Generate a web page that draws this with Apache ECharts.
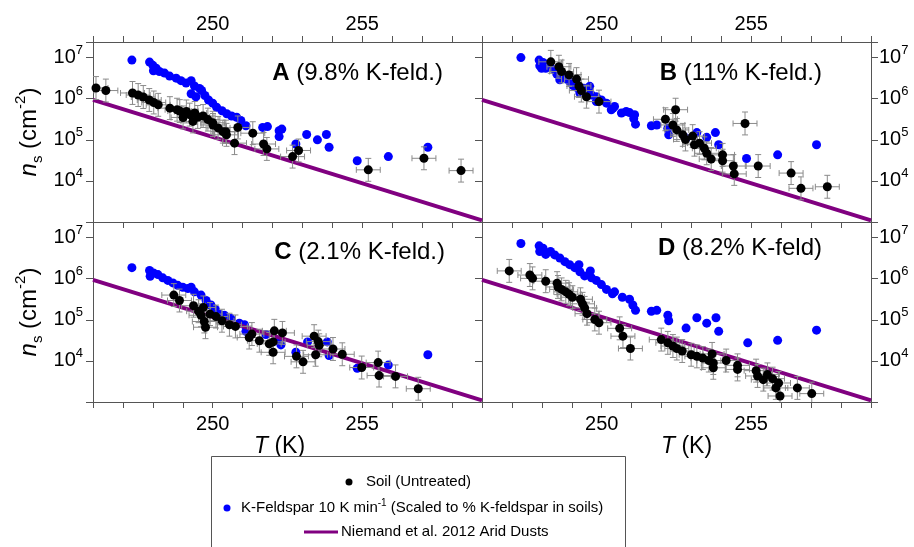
<!DOCTYPE html>
<html>
<head>
<meta charset="utf-8">
<script src="https://cdn.jsdelivr.net/npm/echarts@6/dist/echarts.min.js"></script>
<style>
  html, body { margin: 0; padding: 0; background: #fff; }
  #chart { width: 914px; height: 547px; }
</style>
</head>
<body>
<div id="chart"></div>
<script>
// T (K) and n_s (cm^-2)
const soilA = [[246.1, 1.82e6], [246.43, 1.58e6], [247.32, 1.38e6], [247.51, 1.23e6], [247.68, 1.1e6], [247.88, 9.3e5],
  [248.03, 8.1e5], [248.18, 7.1e5], [248.57, 5.9e5], [248.81, 5.4e5], [248.9, 5.0e5], [249.12, 4.9e5], [249.23, 4.1e5],
  [249.01, 3.5e5], [249.34, 2.8e5], [249.4, 4.5e5], [249.5, 3.6e5], [249.68, 3.8e5], [249.84, 3.1e5], [250.0, 2.6e5],
  [250.01, 2.3e5], [250.18, 1.95e5], [250.34, 1.58e5], [250.44, 1.58e5], [250.46, 1.32e5], [250.73, 8.3e4], [250.84, 2.0e5],
  [251.34, 1.45e5], [251.7, 7.9e4], [251.81, 6.0e4], [252.67, 3.9e4], [252.87, 5.5e4], [255.2, 1.86e4], [257.06, 3.55e4],
  [258.3, 1.78e4]];
const feldA = [[247.3, 8.7e6], [247.89, 7.8e6], [248.0, 6.5e6], [248.11, 5.5e6], [248.02, 4.8e6], [248.22, 4.6e6],
  [248.39, 4.2e6], [248.56, 3.55e6], [248.78, 3.16e6], [248.94, 2.75e6], [249.11, 2.4e6], [249.28, 2.75e6], [249.39, 2.04e6],
  [249.56, 1.78e6], [249.28, 1.32e6], [249.44, 1.12e6], [249.63, 1.58e6], [249.74, 1.2e6], [249.86, 9.3e5], [250.0, 7.8e5],
  [250.13, 6.2e5], [250.31, 5.1e5], [250.47, 4.3e5], [250.63, 3.8e5], [250.8, 3.55e5], [250.94, 2.95e5], [251.11, 2.2e5],
  [251.67, 2.0e5], [251.83, 2.1e5], [252.22, 1.66e5], [252.22, 1.2e5], [252.31, 1.82e5], [252.78, 7.9e4], [253.14, 1.35e5],
  [253.5, 1.0e5], [253.8, 1.35e5], [253.89, 6.6e4], [254.83, 3.1e4], [255.87, 3.9e4], [257.19, 6.6e4]];

const soilB = [[248.3, 7.9e6], [248.57, 6.0e6], [248.66, 4.6e6], [248.91, 3.8e6], [249.16, 3.0e6], [249.24, 2.04e6],
  [249.32, 1.58e6], [249.49, 1.12e6], [249.91, 8.5e5], [252.13, 3.16e5], [252.47, 5.4e5], [252.38, 2.3e5], [252.51, 1.74e5],
  [252.71, 1.32e5], [252.8, 1.02e5], [253.04, 1.23e5], [253.1, 7.6e4], [253.27, 8.3e4], [253.43, 6.2e4], [253.51, 4.7e4],
  [253.66, 3.4e4], [254.04, 4.3e4], [254.04, 3.1e4], [254.4, 2.3e4], [254.43, 1.48e4], [254.79, 2.5e5], [255.23, 2.3e4],
  [256.33, 1.55e4], [256.66, 6.6e3], [257.54, 7.2e3]];
const feldB = [[247.3, 1.0e7], [247.91, 8.7e6], [247.93, 6.3e6], [247.99, 5.5e6], [248.04, 7.6e6], [248.13, 5.5e6],
  [248.27, 6.0e6], [248.43, 5.0e6], [248.5, 4.0e6], [248.6, 4.2e6], [248.6, 2.9e6], [248.77, 3.3e6], [248.85, 3.0e6],
  [248.93, 2.6e6], [249.04, 2.1e6], [249.1, 2.5e6], [249.16, 1.9e6], [249.27, 1.6e6], [249.27, 1.38e6], [249.4, 1.8e6],
  [249.43, 1.4e6], [249.55, 1.5e6], [249.6, 2.0e6], [249.66, 1.23e6], [249.82, 1.12e6], [249.82, 8.5e5], [249.99, 9.3e5],
  [250.16, 7.8e5], [250.32, 5.4e5], [250.38, 5.9e5], [250.43, 6.5e5], [250.66, 4.5e5], [250.82, 4.9e5], [250.93, 4.6e5],
  [251.07, 3.3e5], [251.1, 4.1e5], [251.13, 2.4e5], [251.66, 2.2e5], [251.84, 2.3e5], [252.21, 1.9e5], [252.24, 1.32e5],
  [252.82, 1.1e5], [253.18, 1.5e5], [253.51, 1.15e5], [253.8, 1.5e5], [253.91, 7.6e4], [254.84, 3.5e4], [255.88, 4.3e4],
  [257.18, 7.6e4]];

const soilC = [[248.7, 4.0e5], [248.89, 2.95e5], [249.36, 2.2e5], [249.69, 2.0e5], [249.53, 1.62e5], [249.61, 1.29e5],
  [249.72, 9.1e4], [249.76, 6.6e4], [249.91, 1.38e5], [250.11, 1.2e5], [250.31, 9.5e4], [250.56, 7.6e4], [250.76, 6.9e4],
  [251.22, 3.7e4], [251.31, 4.5e4], [251.56, 3.1e4], [251.89, 2.6e4], [252.02, 2.9e4], [252.06, 5.4e4], [252.02, 1.62e4],
  [252.33, 4.8e4], [252.8, 1.29e4], [253.02, 9.5e3], [253.39, 4.0e4], [253.44, 1.41e4], [253.53, 2.95e4], [253.56, 2.4e4],
  [254.02, 1.95e4], [254.33, 1.45e4], [254.98, 6.9e3], [255.53, 9.1e3], [255.56, 4.4e3], [256.11, 4.2e3], [256.87, 2.1e3]];
const feldC = [[247.3, 1.86e6], [247.89, 1.58e6], [247.91, 1.15e6], [248.02, 1.38e6], [248.17, 1.26e6], [248.33, 1.05e6],
  [248.5, 9.1e5], [248.67, 7.9e5], [248.83, 6.9e5], [249.0, 6.2e5], [249.17, 5.75e5], [249.28, 6.2e5], [249.39, 4.8e5],
  [249.61, 4.0e5], [249.78, 2.95e5], [249.94, 2.3e5], [250.09, 1.78e5], [250.24, 1.35e5], [250.39, 1.29e5], [250.61, 1.07e5],
  [250.89, 8.3e4], [251.06, 7.6e4], [251.11, 5.25e4], [251.78, 4.4e4], [252.17, 3.2e4], [252.28, 2.45e4], [252.78, 1.62e4],
  [253.17, 2.9e4], [253.83, 2.9e4], [253.89, 1.35e4], [254.83, 6.6e3], [255.87, 7.9e3], [257.19, 1.41e4]];

const soilD = [[246.91, 1.55e6], [247.6, 1.23e6], [247.69, 1.02e6], [248.13, 8.7e5], [248.51, 7.8e5], [248.54, 6.3e5],
  [248.66, 5.5e5], [248.8, 4.8e5], [248.91, 4.2e5], [249.02, 3.55e5], [249.29, 3.16e5], [249.36, 2.45e5], [249.43, 1.95e5],
  [249.51, 1.41e5], [249.77, 1.02e5], [249.91, 8.5e4], [250.6, 6.2e4], [250.71, 4.0e4], [250.96, 2.0e4], [251.99, 3.3e4],
  [252.21, 2.75e4], [252.38, 2.3e4], [252.51, 2.0e4], [252.69, 1.74e4], [252.99, 1.41e4], [253.18, 1.29e4], [253.38, 1.17e4],
  [253.58, 1.02e4], [253.69, 1.48e4], [253.73, 8.9e3], [253.73, 6.8e3], [254.16, 1.02e4], [254.54, 7.8e3], [254.54, 6.2e3],
  [255.16, 5.8e3], [255.21, 4.3e3], [255.4, 3.5e3], [255.54, 4.7e3], [255.71, 3.7e3], [255.82, 2.2e3], [255.91, 2.9e3],
  [255.96, 1.4e3], [256.54, 2.2e3], [257.02, 1.6e3]];
const feldD = [[247.3, 7.2e6], [247.91, 6.3e6], [247.93, 4.6e6], [248.04, 5.5e6], [248.13, 3.9e6], [248.29, 4.6e6],
  [248.43, 3.8e6], [248.6, 3.2e6], [248.77, 2.6e6], [248.93, 2.2e6], [249.1, 1.86e6], [249.24, 2.2e6], [249.27, 1.48e6],
  [249.43, 1.17e6], [249.62, 1.55e6], [249.66, 1.05e6], [249.82, 9.1e5], [249.99, 7.2e5], [250.16, 5.5e5], [250.36, 4.3e5],
  [250.43, 4.8e5], [250.69, 3.55e5], [250.93, 3.16e5], [251.04, 2.3e5], [251.13, 1.7e5], [251.66, 1.62e5], [251.84, 1.7e5],
  [252.21, 1.29e5], [252.24, 9.5e4], [252.82, 6.3e4], [253.18, 1.12e5], [253.51, 8.3e4], [253.82, 1.12e5], [253.91, 5.25e4],
  [254.88, 2.75e4], [255.88, 3.16e4], [257.18, 5.6e4]];

// Niemand et al. 2012 arid dusts, end points at the panel edges
const niemand = [[246, 9.4e5], [259, 1.1e3]];

// error bar sizes on the soil points
const ERR_T = 0.4;   // K
const ERR_F = 1.9;   // multiplicative

const titles = [
  ['A', ' (9.8% K-feld.)'],
  ['B', ' (11% K-feld.)'],
  ['C', ' (2.1% K-feld.)'],
  ['D', ' (8.2% K-feld)']
];
const xLabels = [250, 255];

const FONT = 'Liberation Sans, Arial, sans-serif';
const AXIS_COLOR = '#555';
const PURPLE = '#800080';
const BLUE = '#0000ff';

const chart = echarts.init(document.getElementById('chart'));

const grids = [
  { left: 93, top: 42, width: 389, height: 180 },
  { left: 482, top: 42, width: 389, height: 180 },
  { left: 93, top: 222, width: 389, height: 180 },
  { left: 482, top: 222, width: 389, height: 180 }
];

const axisLine = { show: true, lineStyle: { color: AXIS_COLOR, width: 1 } };

function xAxis(gridIndex, position, labels, namePad) {
  return {
    type: 'value', gridIndex, position, min: 246, max: 259, interval: 1,
    axisLine, splitLine: { show: false },
    axisTick: { show: true, inside: false, length: 6, lineStyle: { color: AXIS_COLOR } },
    axisLabel: {
      show: labels, margin: position === 'top' ? 8 : 12,
      color: '#000', fontFamily: FONT, fontSize: 20,
      formatter: v => (xLabels.indexOf(v) >= 0 ? String(v) : '')
    },
    name: namePad ? '{i|T}{t| (K)}' : '',
    nameLocation: 'middle', nameGap: 24,
    nameTextStyle: {
      padding: namePad || 0,
      rich: {
        i: { fontFamily: FONT, fontSize: 23, fontStyle: 'italic', color: '#000' },
        t: { fontFamily: FONT, fontSize: 23, color: '#000' }
      }
    }
  };
}

function powLabel(v) {
  const e = Math.log10(v);
  const r = Math.round(e);
  if (Math.abs(e - r) > 1e-6 || r < 4) return '';
  return '{b|10}{s|' + r + '}';
}

function yAxis(gridIndex, position, labels, inside, name) {
  return {
    type: 'log', logBase: 10, gridIndex, position, min: 1e3, max: 2.4e7,
    axisLine, splitLine: { show: false }, minorTick: { show: false },
    axisTick: { show: true, inside, length: 7, lineStyle: { color: AXIS_COLOR } },
    axisLabel: {
      show: labels, margin: position === 'left' ? 10 : 8,
      formatter: powLabel,
      rich: {
        b: { fontFamily: FONT, fontSize: 20, lineHeight: 28, color: '#000' },
        s: { fontFamily: FONT, fontSize: 13, lineHeight: 13, verticalAlign: 'top', color: '#000' }
      }
    },
    name: name ? '{i|n}{sub|s}{t| (cm}{sup|-2}{t|)}' : '',
    nameLocation: 'middle', nameRotate: 90, nameGap: 48,
    nameTextStyle: {
      rich: {
        i: { fontFamily: FONT, fontSize: 24, lineHeight: 32, fontStyle: 'italic', color: '#000' },
        t: { fontFamily: FONT, fontSize: 24, lineHeight: 32, color: '#000' },
        sub: { fontFamily: FONT, fontSize: 15, lineHeight: 15, verticalAlign: 'bottom', color: '#000' },
        sup: { fontFamily: FONT, fontSize: 15, lineHeight: 15, verticalAlign: 'top', color: '#000' }
      }
    }
  };
}

function errorBars(params, api) {
  const t = api.value(0);
  const n = api.value(1);
  const c = api.coord([t, n]);
  const up = api.coord([t, n * ERR_F])[1];
  const dn = api.coord([t, n / ERR_F])[1];
  const lx = api.coord([t - ERR_T, n])[0];
  const rx = api.coord([t + ERR_T, n])[0];
  const cap = 3;
  const style = { stroke: '#8a8a8a', lineWidth: 1 };
  const seg = (x1, y1, x2, y2) => ({ type: 'line', shape: { x1, y1, x2, y2 }, style });
  return {
    type: 'group',
    children: [
      seg(c[0], up, c[0], dn),
      seg(c[0] - cap, up, c[0] + cap, up),
      seg(c[0] - cap, dn, c[0] + cap, dn),
      seg(lx, c[1], rx, c[1]),
      seg(lx, c[1] - cap, lx, c[1] + cap),
      seg(rx, c[1] - cap, rx, c[1] + cap)
    ]
  };
}

const panels = [
  { soil: soilA, feld: feldA, x: 0, y: 0 },
  { soil: soilB, feld: feldB, x: 2, y: 2 },
  { soil: soilC, feld: feldC, x: 4, y: 3 },
  { soil: soilD, feld: feldD, x: 5, y: 5 }
];

const series = [];
panels.forEach(p => {
  series.push({
    type: 'scatter', name: 'K-Feldspar', xAxisIndex: p.x, yAxisIndex: p.y, data: p.feld,
    symbolSize: 9, itemStyle: { color: BLUE, opacity: 1 }, clip: true, z: 1
  });
  series.push({
    type: 'line', name: 'Niemand', xAxisIndex: p.x, yAxisIndex: p.y, data: niemand,
    showSymbol: false, symbol: 'none', lineStyle: { color: PURPLE, width: 4 }, clip: true, z: 2
  });
  series.push({
    type: 'custom', xAxisIndex: p.x, yAxisIndex: p.y, data: p.soil,
    encode: { x: 0, y: 1 }, renderItem: errorBars, clip: true, silent: true, z: 3
  });
  series.push({
    type: 'scatter', name: 'Soil', xAxisIndex: p.x, yAxisIndex: p.y, data: p.soil,
    symbolSize: 9, itemStyle: { color: '#000', opacity: 1 }, clip: true, z: 4
  });
});

const titlePos = [[443, 73], [822, 73], [445, 252], [822, 248]];
const graphic = titles.map((t, i) => ({
  type: 'text', x: titlePos[i][0], y: titlePos[i][1], z: 10,
  style: {
    text: '{b|' + t[0] + '}{n|' + t[1] + '}',
    align: 'right', verticalAlign: 'middle',
    rich: {
      b: { fontFamily: FONT, fontSize: 24, fontWeight: 'bold', fill: '#000' },
      n: { fontFamily: FONT, fontSize: 24, fill: '#000' }
    }
  }
}));

// legend box
const legFont = { fontFamily: FONT, fontSize: 15, fill: '#000' };
graphic.push(
  { type: 'rect', shape: { x: 211.5, y: 456.5, width: 414, height: 100 },
    style: { fill: '#fff', stroke: AXIS_COLOR, lineWidth: 1 }, z: 10 },
  { type: 'circle', shape: { cx: 349, cy: 482, r: 3.5 }, style: { fill: '#000' }, z: 11 },
  { type: 'text', x: 366, y: 482, z: 11,
    style: Object.assign({ text: 'Soil (Untreated)', verticalAlign: 'middle' }, legFont) },
  { type: 'circle', shape: { cx: 227, cy: 508, r: 3.5 }, style: { fill: BLUE }, z: 11 },
  { type: 'text', x: 241, y: 508, z: 11,
    style: {
      text: '{t|K-Feldspar 10 K min}{s|-1}{t| (Scaled to % K-feldspar in soils)}',
      verticalAlign: 'middle',
      rich: {
        t: Object.assign({ lineHeight: 20 }, legFont),
        s: { fontFamily: FONT, fontSize: 10, lineHeight: 10, verticalAlign: 'top', fill: '#000' }
      }
    } },
  { type: 'line', shape: { x1: 304, y1: 532, x2: 338, y2: 532 },
    style: { stroke: PURPLE, lineWidth: 3 }, z: 11 },
  { type: 'text', x: 341, y: 532, z: 11,
    style: Object.assign({ text: 'Niemand et al. 2012 Arid Dusts', verticalAlign: 'middle' }, legFont) }
);

const option = {
  backgroundColor: '#fff',
  animation: false,
  grid: grids,
  xAxis: [
    xAxis(0, 'bottom', false, null),
    xAxis(0, 'top', true, null),
    xAxis(1, 'bottom', false, null),
    xAxis(1, 'top', true, null),
    xAxis(2, 'bottom', true, [0, 16, 0, 0]),
    xAxis(3, 'bottom', true, [0, 0, 0, 20])
  ],
  yAxis: [
    yAxis(0, 'left', true, false, true),
    yAxis(0, 'right', false, true, false),
    yAxis(1, 'right', true, false, false),
    yAxis(2, 'left', true, false, true),
    yAxis(2, 'right', false, true, false),
    yAxis(3, 'right', true, false, false)
  ],
  series,
  graphic
};

chart.setOption(option);
</script>
</body>
</html>
